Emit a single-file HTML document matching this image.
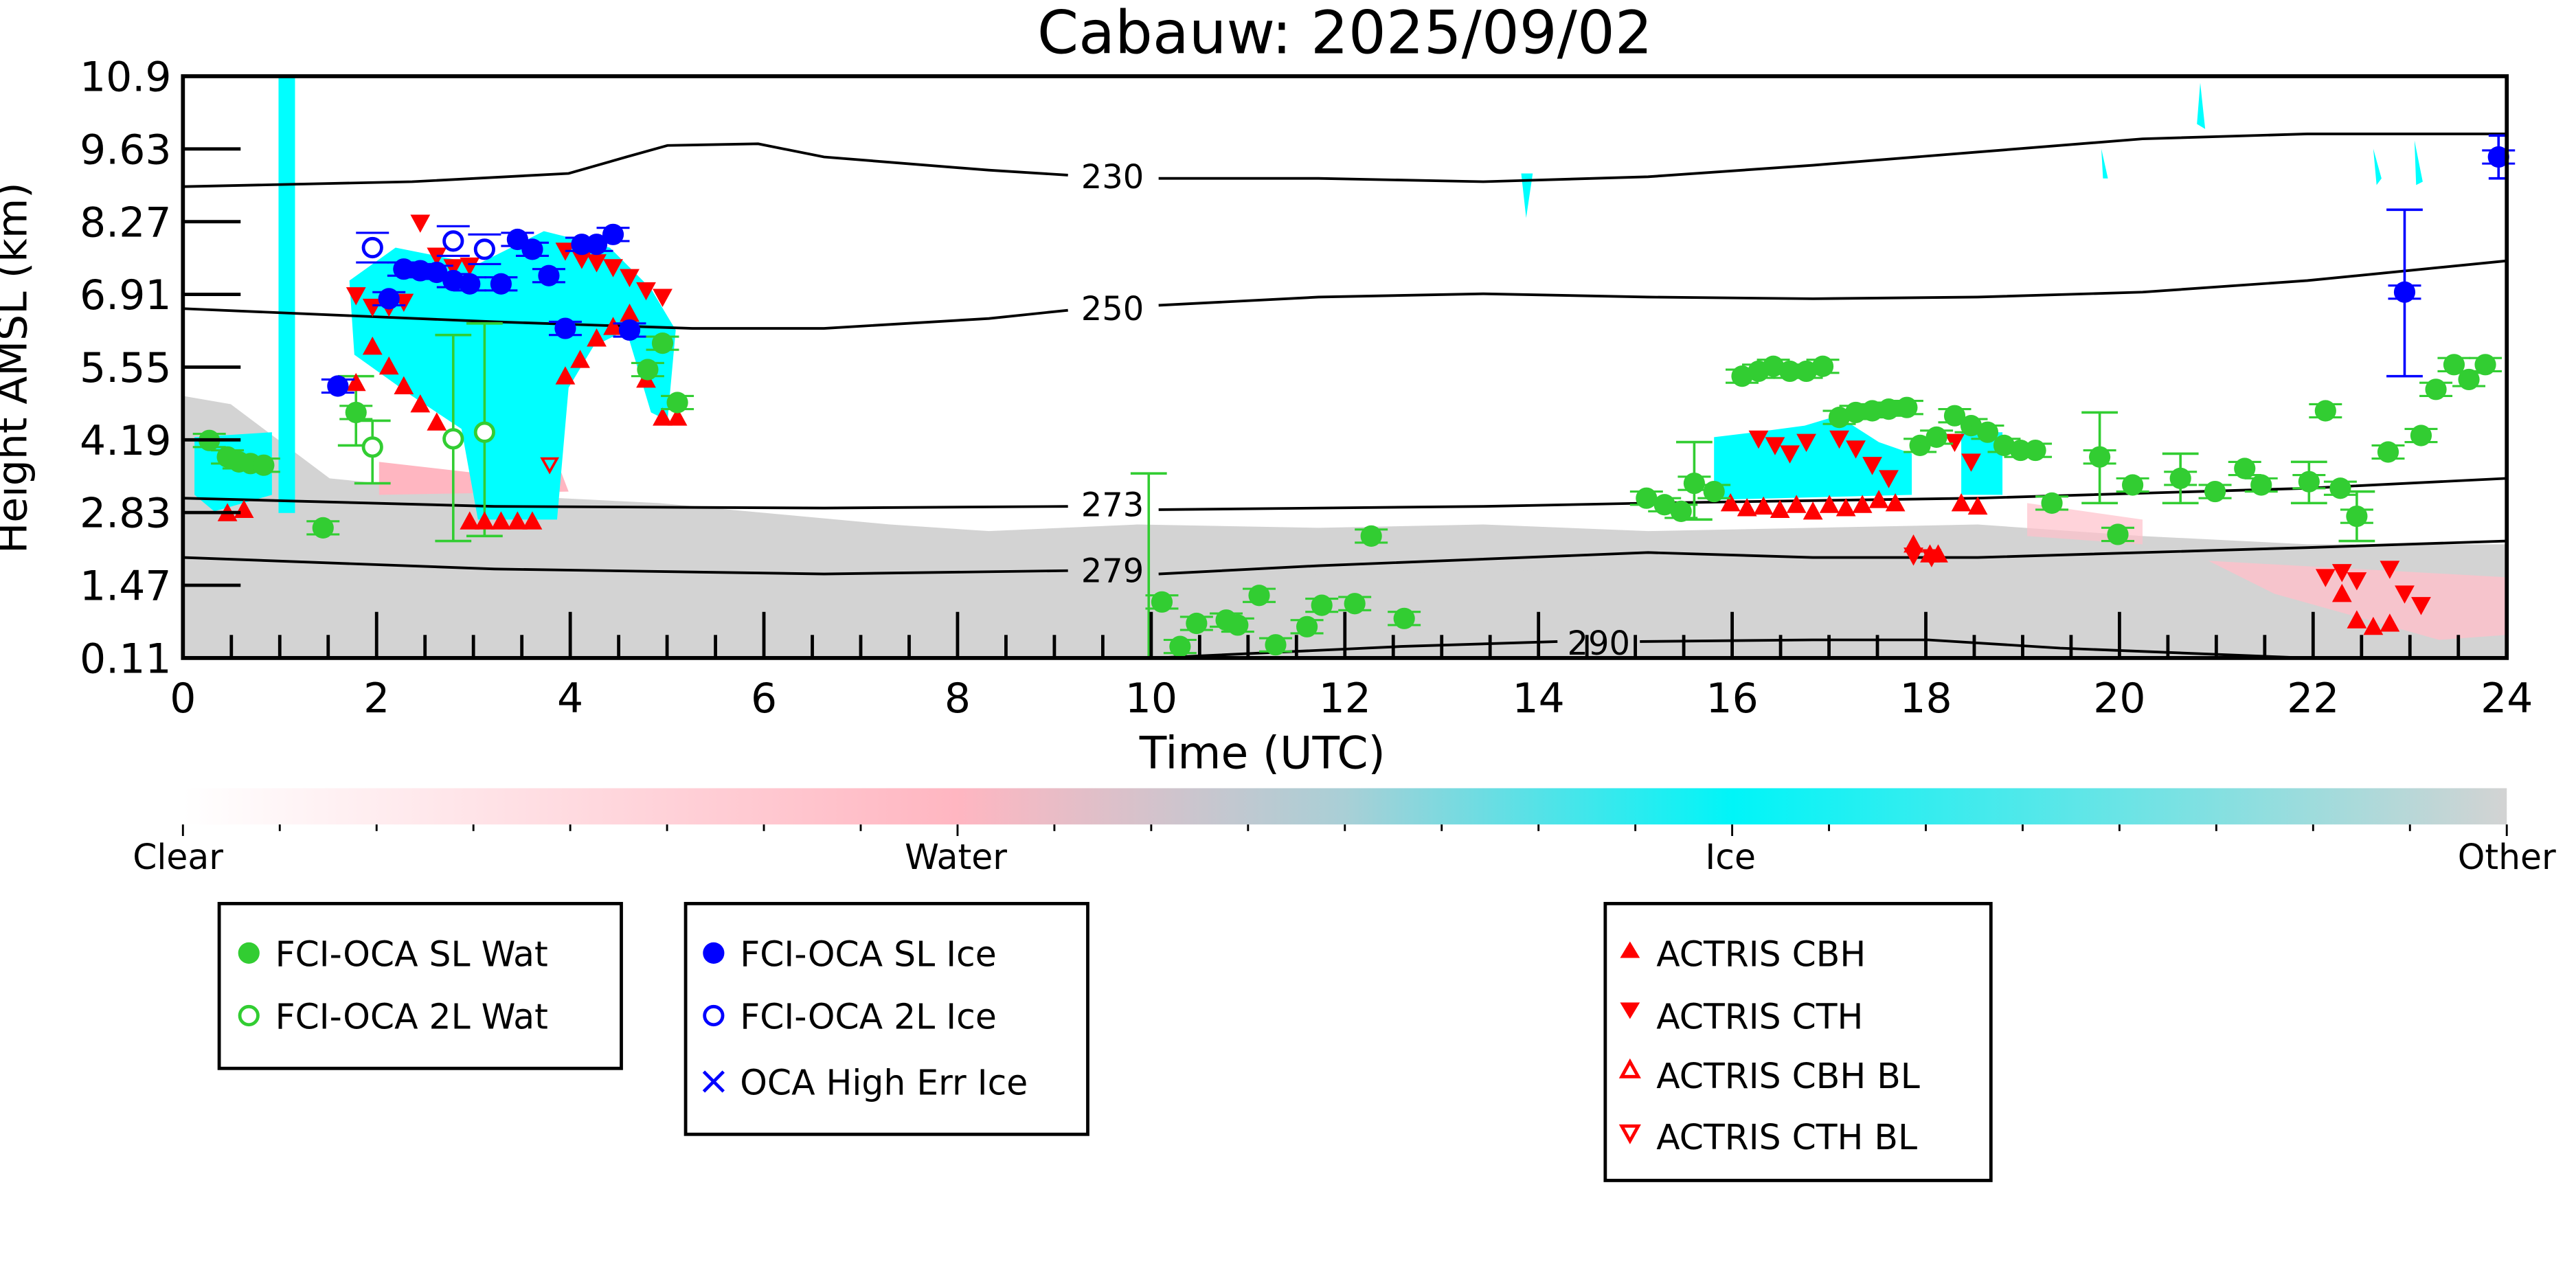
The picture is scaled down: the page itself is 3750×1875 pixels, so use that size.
<!DOCTYPE html>
<html><head><meta charset="utf-8"><style>html,body{margin:0;padding:0;background:#fff}svg{display:block}text{font-family:"DejaVu Sans","Liberation Sans",sans-serif}</style></head>
<body>
<svg id="s" width="3750" height="1875" viewBox="0 0 1563 781" xmlns="http://www.w3.org/2000/svg">
<defs>
<linearGradient id="cb" x1="0" x2="1" y1="0" y2="0">
<stop offset="0" stop-color="#ffffff"/><stop offset="0.333" stop-color="#ffb6c1"/><stop offset="0.5" stop-color="#a9cfd6"/><stop offset="0.667" stop-color="#00f5f8"/><stop offset="1" stop-color="#d3d3d3"/>
</linearGradient>
</defs>
<text x="816" y="32" font-size="36" text-anchor="middle">Cabauw: 2025/09/02</text>
<!-- gray background -->
<path d="M111,240 L140,245 L200,290 L300,300 L400,305 L540,318 L600,322 L690,318 L800,320 L900,318 L1000,322 L1100,320 L1200,318 L1300,325 L1400,330 L1521,330 L1521,399 L111,399 Z" fill="#d3d3d3"/>
<path d="M111,399 L111,340 L300,348 L700,350 L1521,335 L1521,399Z" fill="#d3d3d3"/>
<!-- pink -->
<path d="M230,280 L300,288 L340,285 L345,298 L230,300Z" fill="#ffb6c1"/>
<path d="M1340,340 L1521,350 L1521,385 L1480,388 L1380,360Z" fill="#ffc0cb" opacity="0.8"/>
<path d="M1230,305 L1300,315 L1300,330 L1230,325Z" fill="#ffc0cb" opacity="0.7"/>
<!-- cyan -->
<rect x="169" y="46" width="10" height="265" fill="#00ffff"/>
<path d="M118,265 L165,262 L165,300 L130,310 L118,300Z" fill="#00ffff"/>
<path d="M212,170 L240,150 L290,160 L330,140 L370,150 L395,175 L410,200 L405,255 L395,250 L380,200 L360,210 L345,235 L338,315 L290,315 L280,260 L250,240 L215,215Z" fill="#00ffff"/>
<path d="M1040,265 L1065,262 L1095,258 L1115,252 L1140,268 L1160,275 L1160,300 L1040,303Z" fill="#00ffff"/>
<path d="M1190,262 L1215,262 L1215,300 L1190,300Z" fill="#00ffff"/>
<path d="M1335,50 L1338,78 L1333,75Z M923,105 L930,105 L926,132Z M1275,90 L1279,108 L1276,108Z M1440,90 L1445,108 L1442,112Z M1465,85 L1470,110 L1466,112Z" fill="#00ffff"/>
<!-- contours -->
<g fill="none" stroke="#000" stroke-width="1.6">
<polyline points="111,113 250,110 345,105 380,95 405,88 460,87 500,95 600,103 648,106"/>
<polyline points="703,108 800,108 900,110 1000,107 1100,100 1200,92 1300,84 1400,81 1521,81"/>
<polyline points="111,187 300,195 420,199 500,199 600,193 648,188"/>
<polyline points="703,185 800,180 900,178 1000,180 1100,181 1200,180 1300,177 1400,170 1521,158"/>
<polyline points="111,302 300,307 500,308 648,307"/>
<polyline points="703,309 900,307 1000,305 1200,302 1400,296 1521,290"/>
<polyline points="111,338 300,345 500,348 648,346"/>
<polyline points="703,348 800,343 1000,335 1100,338 1200,338 1400,332 1521,328"/>
<polyline points="700,399 850,392 945,389"/>
<polyline points="995,389 1100,388 1170,388 1250,393 1400,399"/>
</g>
<g font-size="20" text-anchor="middle">
<text x="675" y="114">230</text><text x="675" y="194">250</text><text x="675" y="313">273</text><text x="675" y="353">279</text><text x="970" y="397">290</text>
</g>
<g id="pts"></g>
<!-- axes -->
<rect x="111" y="46" width="1410" height="353" fill="none" stroke="#000" stroke-width="2.4"/>
<g id="ticks" stroke="#000" stroke-width="2"></g>
<g font-size="25" text-anchor="end" id="yl"></g>
<g font-size="25" text-anchor="middle" id="xl"></g>
<text x="766" y="466" font-size="27" text-anchor="middle">Time (UTC)</text>
<text transform="translate(16,223) rotate(-90)" font-size="25" text-anchor="middle">Height AMSL (km)</text>
<!-- colorbar -->
<rect x="111" y="478" width="1410" height="22" fill="url(#cb)"/>
<g id="cbt" stroke="#000" stroke-width="1.2"></g>
<g font-size="21" text-anchor="middle"><text x="108" y="527">Clear</text><text x="580" y="527">Water</text><text x="1050" y="527">Ice</text><text x="1521" y="527">Other</text></g>
<!-- legends -->
<g stroke="#000" stroke-width="2" fill="#fff">
<rect x="133" y="548" width="244" height="100"/><rect x="416" y="548" width="244" height="140"/><rect x="974" y="548" width="234" height="168"/>
</g>
<g font-size="21">
<circle cx="151" cy="578" r="6.5" fill="#32cd32"/><text x="167" y="586">FCI-OCA SL Wat</text>
<circle cx="151" cy="616" r="5.5" fill="none" stroke="#32cd32" stroke-width="2"/><text x="167" y="624">FCI-OCA 2L Wat</text>
<circle cx="433" cy="578" r="6.5" fill="#0000ff"/><text x="449" y="586">FCI-OCA SL Ice</text>
<circle cx="433" cy="616" r="5.5" fill="none" stroke="#0000ff" stroke-width="2"/><text x="449" y="624">FCI-OCA 2L Ice</text>
<path d="M427,650 l12,12 M439,650 l-12,12" stroke="#0000ff" stroke-width="2"/><text x="449" y="664">OCA High Err Ice</text>
<path d="M989,571 l6,10 h-12z" fill="#ff0000"/><text x="1005" y="586">ACTRIS CBH</text>
<path d="M983,608 h12 l-6,10z" fill="#ff0000"/><text x="1005" y="624">ACTRIS CTH</text>
<path d="M989,644 l5,9 h-10z" fill="none" stroke="#ff0000" stroke-width="2"/><text x="1005" y="660">ACTRIS CBH BL</text>
<path d="M984,683 h10 l-5,9z" fill="none" stroke="#ff0000" stroke-width="2"/><text x="1005" y="697">ACTRIS CTH BL</text>
</g>
</svg>
<script>
var NS="http://www.w3.org/2000/svg";
function el(p,t,a){var e=document.createElementNS(NS,t);for(var k in a)e.setAttribute(k,a[k]);p.appendChild(e);return e;}
var P=document.getElementById("pts"),T=document.getElementById("ticks"),YL=document.getElementById("yl"),XL=document.getElementById("xl"),CB=document.getElementById("cbt");
var G="#32cd32",B="#0000ff",R="#ff0000";
// error bars
function eb(x,y1,y2,c,w){el(P,"line",{x1:x,y1:y1,x2:x,y2:y2,stroke:c,"stroke-width":1.5});el(P,"line",{x1:x-w,y1:y1,x2:x+w,y2:y1,stroke:c,"stroke-width":1.5});el(P,"line",{x1:x-w,y1:y2,x2:x+w,y2:y2,stroke:c,"stroke-width":1.5});}
eb(697,287,399,G,11);eb(275,203,328,G,11);eb(294,196,325,G,11);eb(216,228,270,G,11);eb(226,255,293,G,11);eb(1274,250,305,G,11);eb(1459,127,228,B,11);eb(1516,82,108,B,6);eb(1028,268,315,G,11);eb(1323,275,305,G,11);eb(1401,280,305,G,11);eb(1430,298,328,G,11);
var g=[[127,267],[138,277],[145,280],[152,281],[160,282],[196,320],[216,250],[402,208],[393,224],[411,244],[705,365],[716,392],[726,378],[744,376],[751,379],[764,361],[774,391],[793,380],[802,367],[822,366],[832,325],[852,375],[999,302],[1010,306],[1020,310],[1028,293],[1040,298],[1057,228],[1067,225],[1076,222],[1086,225],[1096,225],[1106,222],[1116,253],[1126,250],[1136,249],[1146,248],[1157,247],[1165,270],[1175,265],[1186,252],[1196,258],[1206,262],[1216,270],[1226,273],[1235,273],[1245,305],[1274,277],[1285,324],[1294,294],[1323,290],[1344,298],[1362,284],[1372,294],[1401,292],[1411,249],[1420,296],[1430,313],[1449,274],[1469,264],[1478,236],[1489,221],[1498,230],[1508,221]];
var b=[[205,234],[236,181],[245,163],[255,164],[265,165],[275,170],[285,172],[304,172],[314,145],[323,151],[333,167],[343,199],[353,148],[362,148],[372,142],[382,200],[1459,177],[1516,95]];
var up=[[138,311],[148,309],[216,232],[226,210],[236,222],[245,234],[255,245],[265,256],[285,316],[294,316],[304,316],[314,316],[323,316],[343,228],[352,218],[362,205],[372,198],[382,190],[392,230],[402,253],[411,253],[1050,305],[1060,308],[1070,307],[1080,309],[1090,306],[1100,310],[1110,306],[1120,308],[1130,306],[1140,303],[1150,305],[1161,330],[1171,336],[1176,336],[1190,305],[1200,307],[1421,360],[1430,376],[1440,380],[1450,378]];
var dn=[[216,179],[226,186],[236,186],[245,183],[255,135],[265,155],[275,162],[285,161],[343,152],[353,157],[362,159],[372,162],[382,168],[392,176],[402,180],[1067,266],[1077,270],[1086,275],[1096,268],[1116,266],[1126,272],[1136,282],[1146,290],[1161,337],[1172,338],[1186,268],[1196,280],[1411,350],[1421,347],[1430,352],[1450,345],[1459,360],[1469,367]];
dn.forEach(function(p){el(P,"path",{d:"M"+(p[0]-6)+","+(p[1]-5)+"h12l-6,11z",fill:R});});
up.forEach(function(p){el(P,"path",{d:"M"+p[0]+","+(p[1]-6)+"l6,11h-12z",fill:R});});
el(P,"path",{d:"M329,278h9l-4.5,8z",fill:"none",stroke:R,"stroke-width":1.5});
g.forEach(function(p){el(P,"line",{x1:p[0]-10,y1:p[1]-4,x2:p[0]+10,y2:p[1]-4,stroke:G,"stroke-width":1.3});el(P,"line",{x1:p[0]-10,y1:p[1]+4,x2:p[0]+10,y2:p[1]+4,stroke:G,"stroke-width":1.3});el(P,"circle",{cx:p[0],cy:p[1],r:6.5,fill:G});});
[[226,271],[275,266],[294,262]].forEach(function(p){el(P,"circle",{cx:p[0],cy:p[1],r:5.5,fill:"#fff",stroke:G,"stroke-width":2});});
b.forEach(function(p){el(P,"line",{x1:p[0]-10,y1:p[1]-4,x2:p[0]+10,y2:p[1]-4,stroke:B,"stroke-width":1.3});el(P,"line",{x1:p[0]-10,y1:p[1]+4,x2:p[0]+10,y2:p[1]+4,stroke:B,"stroke-width":1.3});el(P,"circle",{cx:p[0],cy:p[1],r:6.5,fill:B});});
[[226,150],[275,146],[294,151]].forEach(function(p){el(P,"line",{x1:p[0]-10,y1:p[1]-9,x2:p[0]+10,y2:p[1]-9,stroke:B,"stroke-width":1.3});el(P,"line",{x1:p[0]-10,y1:p[1]+9,x2:p[0]+10,y2:p[1]+9,stroke:B,"stroke-width":1.3});el(P,"circle",{cx:p[0],cy:p[1],r:5.5,fill:"#fff",stroke:B,"stroke-width":2});});
var yl=["10.9","9.63","8.27","6.91","5.55","4.19","2.83","1.47","0.11"];
for(var i=0;i<9;i++){var y=46+i*44.125;el(T,"line",{x1:111,y1:y,x2:146,y2:y});var t=el(YL,"text",{x:104,y:y+9});t.textContent=yl[i];}
for(var h=0;h<=48;h++){var x=111+h*29.375;var big=h%4==0;el(T,"line",{x1:x,y1:399,x2:x,y2:big?371:385});if(big){var t=el(XL,"text",{x:x,y:432});t.textContent=h/2;}}
for(var k=0;k<=24;k++){var x=111+k*1410/24;el(CB,"line",{x1:x,y1:500,x2:x,y2:k%8==0?507:504});}
</script>
</body></html>
